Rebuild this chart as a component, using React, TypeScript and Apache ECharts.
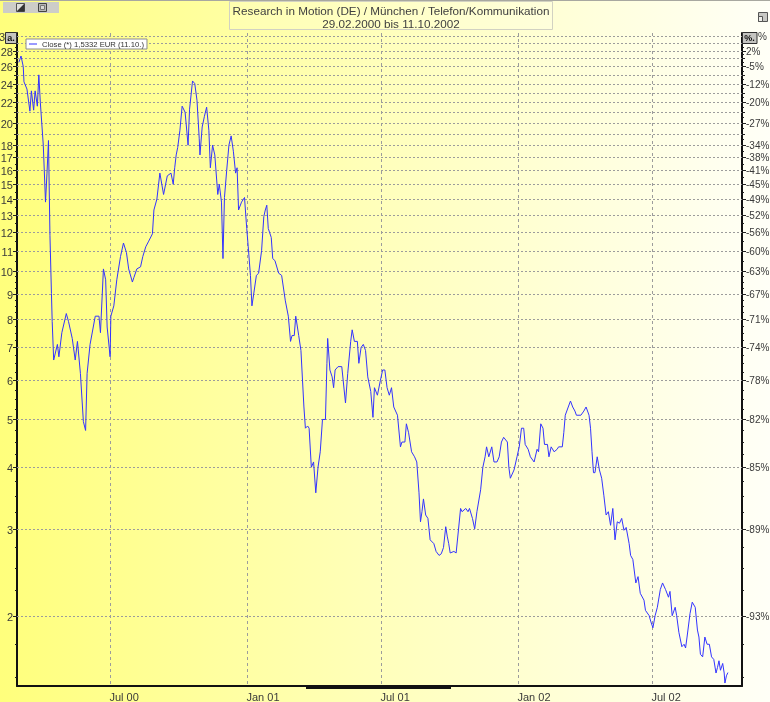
import React, { useEffect, useRef } from 'react';
import * as echarts from 'echarts';

// ---------------- data ----------------
const START_DATE = [2000, 2, 29]; // 29.02.2000
const DAY = 86400000;

// calendar-day offsets (since 29.02.2000) of the sampled closes
const dayOffsets = [
  0, 2, 3, 6, 7, 11, 15, 17, 20, 22,
  25, 27, 29, 33, 36, 38, 40, 42, 44, 45,
  47, 52, 54, 58, 64, 67, 72, 76, 79, 83,
  87, 90, 92, 96, 103, 108, 110, 114, 117, 119,
  123, 124, 128, 132, 137, 141, 145, 148, 153, 155,
  159, 164, 167, 171, 175, 180, 182, 186, 190, 195,
  200, 205, 208, 210, 212, 214, 217, 220, 224, 228,
  230, 234, 237, 240, 243, 244, 247, 250, 253, 256,
  258, 261, 264, 268, 270, 273, 275, 277, 280, 283,
  286, 289, 292, 294, 296, 300, 304, 307, 309, 312,
  314, 316, 320, 323, 327, 330, 332, 334, 336, 340,
  342, 345, 350, 354, 359, 363, 366, 368, 371, 373,
  377, 380, 384, 386, 389, 391, 394, 397, 400, 403,
  406, 409, 413, 415, 416, 419, 422, 424, 426, 430,
  435, 440, 443, 447, 449, 452, 456, 458, 461, 464,
  467, 470, 474, 477, 479, 483, 487, 490, 493, 496,
  499, 502, 505, 510, 514, 516, 520, 522, 525, 529,
  533, 536, 539, 541, 543, 545, 548, 551, 554, 559,
  562, 566, 569, 572, 575, 577, 579, 581, 586, 589,
  592, 595, 597, 602, 605, 607, 611, 614, 617, 622,
  625, 628, 630, 633, 637, 640, 644, 647, 650, 653,
  658, 660, 662, 667, 671, 674, 677, 680, 682, 686,
  689, 694, 698, 700, 703, 706, 708, 712, 714, 717,
  721, 725, 727, 732, 734, 736, 741, 743, 746, 749,
  751, 757, 761, 764, 768, 770, 772, 774, 776, 779,
  782, 785, 788, 791, 794, 797, 800, 803, 806, 809,
  812, 815, 818, 822, 824, 827, 831, 834, 837, 842,
  844, 849, 851, 854, 857, 860, 864, 867, 871, 875,
  877, 880, 884, 886, 889, 893, 896, 898, 900, 904,
  907, 911, 914, 916, 918, 921, 924, 927, 930, 933,
  936, 939, 941, 943, 945, 948, 950, 951, 953, 955,
];

const closes = [
  26.5, 27.0, 27.3, 26.0, 24.2, 23.4, 21.1, 23.2, 21.2, 23.2,
  21.6, 25.0, 22.0, 18.0, 13.8, 15.8, 18.4, 11.8, 9.0, 7.9,
  6.6, 7.1, 6.7, 7.5, 8.2, 7.9, 7.3, 6.6, 7.2, 6.2,
  4.95, 4.75, 6.2, 7.1, 8.1, 8.1, 7.5, 10.1, 9.6, 7.7,
  6.7, 8.1, 8.5, 9.6, 10.7, 11.4, 10.9, 10.1, 9.5, 9.7,
  10.1, 10.2, 10.7, 11.2, 11.5, 11.9, 13.3, 14.0, 15.8, 14.3,
  15.6, 15.8, 15.0, 16.2, 17.2, 17.8, 19.3, 21.6, 21.0, 18.0,
  21.3, 24.3, 24.0, 22.2, 18.6, 17.2, 19.6, 20.6, 21.5, 19.3,
  16.2, 18.0, 17.2, 14.3, 15.0, 13.8, 10.6, 14.1, 16.0, 18.0,
  18.8, 17.5, 15.8, 16.2, 13.3, 13.8, 14.1, 12.2, 11.2, 9.8,
  8.5, 8.9, 9.8, 9.9, 11.0, 12.9, 13.3, 13.6, 12.2, 11.7,
  10.6, 10.5, 9.9, 9.8, 8.7, 8.1, 7.2, 7.4, 7.4, 8.1,
  7.4, 6.9, 5.3, 4.8, 4.85, 4.8, 4.0, 4.1, 3.55, 4.0,
  4.3, 5.0, 5.0, 6.5, 7.3, 6.3, 6.1, 5.8, 6.3, 6.4,
  6.4, 5.4, 6.2, 7.2, 7.6, 7.2, 7.2, 6.5, 7.0, 7.1,
  6.9, 6.1, 5.7, 5.05, 5.8, 5.6, 6.0, 6.3, 6.3, 5.8,
  5.6, 5.8, 5.3, 5.1, 4.4, 4.5, 4.5, 4.9, 4.7, 4.3,
  4.2, 4.1, 3.55, 3.1, 3.25, 3.45, 3.2, 3.15, 2.85, 2.8,
  2.7, 2.65, 2.67, 2.75, 3.03, 2.9, 2.8, 2.68, 2.7, 2.68,
  2.97, 3.3, 3.25, 3.3, 3.25, 3.3, 3.15, 3.0, 3.25, 3.6,
  4.0, 4.2, 4.4, 4.2, 4.4, 4.1, 4.1, 4.2, 4.5, 4.6,
  4.5, 4.0, 3.8, 3.95, 4.2, 4.4, 4.8, 4.8, 4.45, 4.35,
  4.2, 4.1, 4.35, 4.3, 4.9, 4.8, 4.45, 4.45, 4.2, 4.4,
  4.3, 4.35, 4.4, 4.4, 4.7, 5.1, 5.35, 5.45, 5.3, 5.2,
  5.1, 5.1, 5.2, 5.3, 5.1, 4.8, 4.3, 3.9, 3.9, 4.2,
  3.95, 3.8, 3.5, 3.2, 3.25, 3.05, 3.3, 2.85, 3.1, 3.08,
  3.15, 2.98, 3.02, 2.8, 2.65, 2.6, 2.33, 2.4, 2.22, 2.15,
  2.05, 2.0, 1.95, 1.89, 2.0, 2.08, 2.26, 2.33, 2.26, 2.18,
  2.24, 2.0, 2.08, 2.0, 1.85, 1.73, 1.75, 1.72, 1.81, 2.02,
  2.13, 2.08, 1.87, 1.81, 1.67, 1.65, 1.81, 1.75, 1.75, 1.65,
  1.63, 1.53, 1.57, 1.62, 1.55, 1.6, 1.53, 1.46, 1.51, 1.5332,
];

// y-axis (log) labelled grid values with price & percent labels
const gridValues = [30, 28, 26, 24, 22, 20, 18, 17, 16, 15, 14, 13, 12, 11, 10, 9, 8, 7, 6, 5, 4, 3, 2];
const priceLabels = ['30', '28', '26', '24', '22', '20', '18', '17', '16', '15', '14', '13', '12', '11', '10', '9', '8', '7', '6', '5', '4', '3', '2'];
const pctLabels = ['10%', '2%', '-5%', '-12%', '-20%', '-27%', '-34%', '-38%', '-41%', '-45%', '-49%', '-52%', '-56%', '-60%', '-63%', '-67%', '-71%', '-74%', '-78%', '-82%', '-85%', '-89%', '-93%'];
const unlabeledGridValues = [29, 27, 25, 23, 21, 19];
const minorTickValues = [
  1.5, 1.75, 2.25, 2.5, 2.75, 3.25, 3.5, 3.75, 4.25, 4.5, 4.75,
  5.25, 5.5, 5.75, 6.25, 6.5, 6.75, 7.25, 7.5, 7.75, 8.25, 8.5, 8.75, 9.25, 9.5, 9.75,
  10.5, 11.5, 12.5, 13.5, 14.5, 15.5, 16.5, 17.5, 18.5, 19.5, 20.5, 21.5, 22.5,
  23.5, 24.5, 25.5, 26.5, 27.5, 28.5, 29.5,
];

// x-axis ticks
const monthTickDates = [[2000, 7, 1], [2001, 1, 1], [2001, 7, 1], [2002, 1, 1], [2002, 7, 1]];
const monthTickLabels = ['Jul 00', 'Jan 01', 'Jul 01', 'Jan 02', 'Jul 02'];

const titleLine1 = 'Research in Motion (DE) / München / Telefon/Kommunikation';
const titleLine2 = '29.02.2000 bis 11.10.2002';
const legendText = 'Close (*) 1,5332 EUR (11.10.)';

// ---------------- helpers ----------------
const toMs = (d: number[]) => Date.UTC(d[0], d[1] - 1, d[2]);
const START = toMs(START_DATE);
const X_MIN = START - 2.4 * DAY;
const X_MAX = START + 974 * DAY;
const Y_MIN = 1.44;
const Y_MAX = 30.4;
const FONT = '"Liberation Sans", Arial, Helvetica, sans-serif';
const LABEL_COLOR = '#3a3a3a';
const GRID_COLOR = '#9c9c9c';

// the top labels sit partly under the "a." / "%." buttons: only the visible part is drawn
const LEFT_BOX_X = 5.5;
const RIGHT_BOX_END = 757;

function buildOption(): any {
  const lineData = dayOffsets.map((d, i) => [START + d * DAY, closes[i]]);

  const hGrid = {
    type: 'custom',
    name: 'hgrid',
    coordinateSystem: 'cartesian2d',
    clip: false,
    silent: true,
    z: 1,
    data: gridValues.map((v) => [X_MIN, v]),
    renderItem: (params: any, api: any) => {
      const cs = params.coordSys;
      const y = Math.round(api.coord([X_MIN, api.value(1)])[1]) + 0.5;
      const l = cs.x;
      const r = cs.x + cs.width;
      const i = params.dataIndex;
      const underBox = y < cs.y + 11;
      const leftText = underBox ? priceLabels[i].slice(0, 1) : priceLabels[i];
      const rightText = underBox ? pctLabels[i].slice(-1) : pctLabels[i];
      const leftX = underBox ? LEFT_BOX_X - 0.5 : l - 4;
      const rightX = underBox ? RIGHT_BOX_END + 1 : r + 4;
      return {
        type: 'group',
        children: [
          { type: 'line', shape: { x1: l, y1: y, x2: r, y2: y }, style: { stroke: GRID_COLOR, lineWidth: 1, lineDash: [2, 2] } },
          { type: 'line', shape: { x1: l - 4, y1: y, x2: l, y2: y }, style: { stroke: '#202020', lineWidth: 1 } },
          { type: 'line', shape: { x1: r, y1: y, x2: r + 4, y2: y }, style: { stroke: '#202020', lineWidth: 1 } },
          {
            type: 'text',
            style: {
              text: leftText, x: leftX, y, align: 'right', verticalAlign: 'middle',
              textAlign: 'right', textVerticalAlign: 'middle',
              fontSize: 11, fontFamily: FONT, fill: LABEL_COLOR,
            },
          },
          {
            type: 'text',
            style: {
              text: rightText, x: rightX, y, align: 'left', verticalAlign: 'middle',
              textAlign: 'left', textVerticalAlign: 'middle',
              fontSize: 10, fontFamily: FONT, fill: LABEL_COLOR,
            },
          },
        ],
      };
    },
  };

  const hGridMinor = {
    type: 'custom',
    name: 'hgrid2',
    coordinateSystem: 'cartesian2d',
    clip: false,
    silent: true,
    z: 1,
    data: unlabeledGridValues.map((v) => [X_MIN, v]),
    renderItem: (params: any, api: any) => {
      const cs = params.coordSys;
      const y = Math.round(api.coord([X_MIN, api.value(1)])[1]) + 0.5;
      const l = cs.x;
      const r = cs.x + cs.width;
      return {
        type: 'group',
        children: [
          { type: 'line', shape: { x1: l, y1: y, x2: r, y2: y }, style: { stroke: GRID_COLOR, lineWidth: 1, lineDash: [2, 2] } },
          { type: 'line', shape: { x1: l - 3, y1: y, x2: l, y2: y }, style: { stroke: '#202020', lineWidth: 1 } },
          { type: 'line', shape: { x1: r, y1: y, x2: r + 3, y2: y }, style: { stroke: '#202020', lineWidth: 1 } },
        ],
      };
    },
  };

  const minorTicks = {
    type: 'custom',
    name: 'minor',
    coordinateSystem: 'cartesian2d',
    clip: false,
    silent: true,
    z: 1,
    data: minorTickValues.map((v) => [X_MIN, v]),
    renderItem: (params: any, api: any) => {
      const cs = params.coordSys;
      const y = Math.round(api.coord([X_MIN, api.value(1)])[1]) + 0.5;
      const l = cs.x;
      const r = cs.x + cs.width;
      return {
        type: 'group',
        children: [
          { type: 'line', shape: { x1: l - 2, y1: y, x2: l, y2: y }, style: { stroke: '#202020', lineWidth: 1 } },
          { type: 'line', shape: { x1: r, y1: y, x2: r + 2, y2: y }, style: { stroke: '#202020', lineWidth: 1 } },
        ],
      };
    },
  };

  const vGrid = {
    type: 'custom',
    name: 'vgrid',
    coordinateSystem: 'cartesian2d',
    clip: false,
    silent: true,
    z: 1,
    data: monthTickDates.map((d) => [toMs(d), Y_MAX]),
    renderItem: (params: any, api: any) => {
      const cs = params.coordSys;
      const x = Math.round(api.coord([api.value(0), Y_MAX])[0]) + 0.5;
      const t = cs.y;
      const b = cs.y + cs.height;
      return {
        type: 'group',
        children: [
          { type: 'line', shape: { x1: x, y1: t, x2: x, y2: b }, style: { stroke: GRID_COLOR, lineWidth: 1, lineDash: [3, 3] } },
          {
            type: 'text',
            style: {
              text: monthTickLabels[params.dataIndex], x: x - 1, y: b + 5, align: 'left', verticalAlign: 'top',
              textAlign: 'left', textVerticalAlign: 'top',
              fontSize: 11, fontFamily: FONT, fill: LABEL_COLOR,
            },
          },
        ],
      };
    },
  };

  const bgGradient = {
    type: 'linear', x: 0, y: 0, x2: 1, y2: 0,
    colorStops: [
      { offset: 0, color: '#ffff7c' },
      { offset: 0.5, color: '#ffffbc' },
      { offset: 1, color: '#fffff7' },
    ],
  };

  const graphic = [
    { type: 'rect', z: -100, silent: true, shape: { x: 0, y: 0, width: 770, height: 702 }, style: { fill: bgGradient } },
    { type: 'line', z: 50, silent: true, shape: { x1: 0, y1: 0.5, x2: 770, y2: 0.5 }, style: { stroke: '#a8a8a0', lineWidth: 1 } },
    // toolbar icons (top-left)
    { type: 'rect', z: 50, silent: true, shape: { x: 3, y: 2, width: 56, height: 11 }, style: { fill: '#cdcdc8' } },
    { type: 'rect', z: 51, silent: true, shape: { x: 16.5, y: 3.5, width: 8, height: 8 }, style: { fill: '#e0e0dc', stroke: '#555555', lineWidth: 1 } },
    { type: 'polygon', z: 52, silent: true, shape: { points: [[24.5, 3.5], [24.5, 11.5], [16.5, 11.5]] }, style: { fill: '#333333' } },
    { type: 'rect', z: 51, silent: true, shape: { x: 38.5, y: 3.5, width: 8, height: 8 }, style: { fill: '#b8b8b4', stroke: '#444444', lineWidth: 1 } },
    { type: 'rect', z: 52, silent: true, shape: { x: 40.5, y: 5.5, width: 4, height: 4 }, style: { fill: '#d8d8d4', stroke: '#777777', lineWidth: 1 } },
    // top-right icon
    { type: 'rect', z: 51, silent: true, shape: { x: 758.5, y: 12.5, width: 9, height: 9 }, style: { fill: '#c8c8c4', stroke: '#555555', lineWidth: 1 } },
    { type: 'rect', z: 52, silent: true, shape: { x: 758.5, y: 16.5, width: 4, height: 5 }, style: { fill: '#eeeeea', stroke: '#555555', lineWidth: 1 } },
    // title box
    { type: 'rect', z: 50, silent: true, shape: { x: 229.5, y: 1.5, width: 323, height: 28 }, style: { fill: 'rgba(255,255,255,0.15)', stroke: '#d2d2c2', lineWidth: 1 } },
    {
      type: 'text', z: 51, silent: true,
      style: { text: titleLine1, x: 391, y: 10, align: 'center', verticalAlign: 'middle', textAlign: 'center', textVerticalAlign: 'middle', fontSize: 11.7, fontFamily: FONT, fill: '#404040' },
    },
    {
      type: 'text', z: 51, silent: true,
      style: { text: titleLine2, x: 391, y: 23, align: 'center', verticalAlign: 'middle', textAlign: 'center', textVerticalAlign: 'middle', fontSize: 11.7, fontFamily: FONT, fill: '#404040' },
    },
    // "a." box on left axis, "%." box on right axis
    { type: 'rect', z: 100, silent: true, shape: { x: LEFT_BOX_X, y: 32.5, width: 11, height: 11 }, style: { fill: '#c4c4c0', stroke: '#303030', lineWidth: 1 } },
    {
      type: 'text', z: 101, silent: true,
      style: { text: 'a.', x: 11, y: 38, align: 'center', verticalAlign: 'middle', textAlign: 'center', textVerticalAlign: 'middle', fontSize: 9, fontWeight: 'bold', fontFamily: FONT, fill: '#111111' },
    },
    { type: 'rect', z: 100, silent: true, shape: { x: 742.5, y: 32.5, width: RIGHT_BOX_END - 742.5, height: 11 }, style: { fill: '#c4c4c0', stroke: '#303030', lineWidth: 1 } },
    {
      type: 'text', z: 101, silent: true,
      style: { text: '%.', x: 749.5, y: 38, align: 'center', verticalAlign: 'middle', textAlign: 'center', textVerticalAlign: 'middle', fontSize: 9, fontWeight: 'bold', fontFamily: FONT, fill: '#111111' },
    },
    // bottom scroll marker
    { type: 'rect', z: 100, silent: true, shape: { x: 306, y: 686, width: 145, height: 3 }, style: { fill: '#111111' } },
  ];

  return {
    animation: false,
    textStyle: { fontFamily: FONT },
    grid: { left: 17, right: 28, top: 33, bottom: 16, containLabel: false },
    legend: {
      data: [legendText],
      left: 26,
      top: 39,
      icon: 'rect',
      itemWidth: 8,
      itemHeight: 1,
      itemGap: 0,
      padding: [1, 3, 1, 3],
      backgroundColor: '#ffffff',
      borderColor: '#8c8c8c',
      borderWidth: 1,
      selectedMode: false,
      textStyle: { fontSize: 7.7, fontFamily: FONT, color: '#333333' },
      z: 20,
    },
    xAxis: {
      type: 'time',
      min: X_MIN,
      max: X_MAX,
      axisLabel: { show: false },
      axisTick: { show: false },
      splitLine: { show: false },
      axisLine: { show: true, lineStyle: { color: '#111111', width: 2 } },
    },
    yAxis: [
      {
        type: 'log',
        logBase: 10,
        min: Y_MIN,
        max: Y_MAX,
        axisLabel: { show: false },
        axisTick: { show: false },
        splitLine: { show: false },
        axisLine: { show: true, lineStyle: { color: '#111111', width: 2 } },
      },
      {
        type: 'value',
        position: 'right',
        min: 0,
        max: 1,
        axisLabel: { show: false },
        axisTick: { show: false },
        splitLine: { show: false },
        axisLine: { show: true, lineStyle: { color: '#111111', width: 2 } },
      },
    ],
    graphic,
    series: [
      hGridMinor,
      minorTicks,
      hGrid,
      vGrid,
      {
        type: 'line',
        name: legendText,
        data: lineData,
        showSymbol: false,
        symbol: 'none',
        color: '#3333ff',
        lineStyle: { color: '#3333ff', width: 1 },
        z: 5,
      },
    ],
  };
}

export default function App() {
  const ref = useRef<HTMLDivElement>(null);
  useEffect(() => {
    if (!ref.current) return;
    const chart = echarts.init(ref.current, null, { renderer: 'svg' });
    chart.setOption(buildOption());
    return () => chart.dispose();
  }, []);
  return <div ref={ref} style={{ position: 'fixed', left: 0, top: 0, width: 770, height: 702 }} />;
}
